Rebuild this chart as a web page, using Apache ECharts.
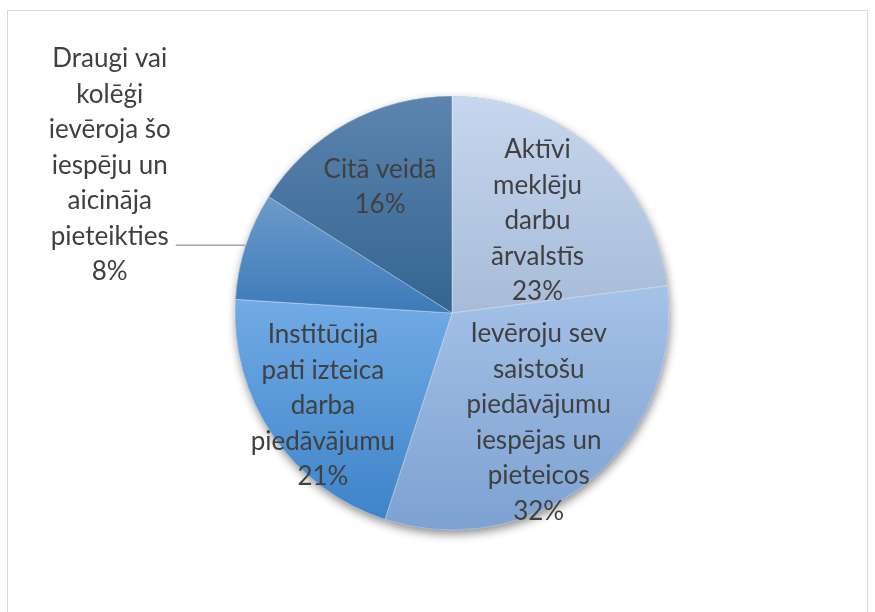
<!DOCTYPE html>
<html>
<head>
<meta charset="utf-8">
<script src="https://cdn.jsdelivr.net/npm/echarts@6/dist/echarts.min.js"></script>
<style>
  html, body { margin: 0; padding: 0; background: #fff; }
  .frame {
    position: absolute; left: 7px; top: 10px; width: 861px; height: 640px;
    border: 1px solid #d9d9d9; box-sizing: border-box;
  }
  #chart { position: absolute; left: 0; top: 0; width: 875px; height: 612px; }
</style>
</head>
<body>
<div class="frame"></div>
<div id="chart"></div>
<script>
// kategorijas (ar rindu pārnesumiem kā attēlā)
var categories = [
  'Aktīvi\nmeklēju\ndarbu\nārvalstīs',
  'Ievēroju sev\nsaistošu\npiedāvājumu\niespējas un\npieteicos',
  'Institūcija\npati izteica\ndarba\npiedāvājumu',
  'Draugi vai\nkolēģi\nievēroja šo\niespēju un\naicināja\npieteikties',
  'Citā veidā'
]
var values = [23, 32, 21, 8, 16]

// izskats
var colorsTop = ['#c6d7ee', '#a5c2e7', '#72abe5', '#6c9bcb', '#5c84ae']
var colorsBottom = ['#a7bbd8', '#7da1d1', '#3d84c9', '#3c7ab9', '#336591']
var labelRadius = [0.58, 0.61, 0.70, 0, 0.67] // iekšējo uzrakstu attālums (daļa no rādiusa)
var CX = 452, CY = 313, R = 217

var myChart = echarts.init(document.getElementById('chart'))

var mainData = values.map(function (v, i) {
  var item = {
    name: categories[i],
    value: v,
    itemStyle: {
      color: new echarts.graphic.LinearGradient(0, 0, 0, 1, [
        { offset: 0, color: colorsTop[i] },
        { offset: 1, color: colorsBottom[i] }
      ])
    }
  }
  if (i === 3) {
    item.label = {
      position: 'outside',
      formatter: function (p) { return '{t|' + p.name + '\n' + p.percent + '%}' },
      padding: [0, 0, 160, 0],
      rich: {
        t: { align: 'center', fontSize: 26, lineHeight: 35.5, color: '#404040', fontFamily: 'Lato' }
      }
    }
    item.labelLine = {
      show: true,
      length: 2,
      length2: 68,
      lineStyle: { color: '#a6a6a6', width: 1.5 }
    }
  }
  return item
})

myChart.setOption({
  animation: false,
  series: [
    {
      // ēna zem apļa
      type: 'pie',
      silent: true,
      center: [CX, CY],
      radius: R,
      startAngle: 90,
      z: 1,
      label: { show: false },
      labelLine: { show: false },
      itemStyle: {
        color: '#4a7ab0',
        shadowBlur: 10,
        shadowOffsetX: 1,
        shadowOffsetY: 4,
        shadowColor: 'rgba(0,0,0,0.45)'
      },
      data: values.map(function (v, i) { return { name: categories[i], value: v } })
    },
    {
      type: 'pie',
      center: [CX, CY],
      radius: R,
      startAngle: 90,
      z: 2,
      avoidLabelOverlap: false,
      itemStyle: { borderColor: 'rgba(255,255,255,0.35)', borderWidth: 1 },
      label: {
        show: true,
        position: 'inside',
        formatter: '{b}\n{d}%',
        color: '#404040',
        fontSize: 26,
        lineHeight: 35.5,
        fontFamily: 'Lato',
        align: 'center'
      },
      labelLine: { show: false },
      labelLayout: function (p) {
        var k = labelRadius[p.dataIndex]
        if (!k) return {}
        var lx = p.labelRect.x + p.labelRect.width / 2
        var ly = p.labelRect.y + p.labelRect.height / 2
        var f = k / 0.5 - 1
        return { dx: (lx - CX) * f, dy: (ly - CY) * f + 5 }
      },
      data: mainData
    }
  ]
})
</script>
</body>
</html>
